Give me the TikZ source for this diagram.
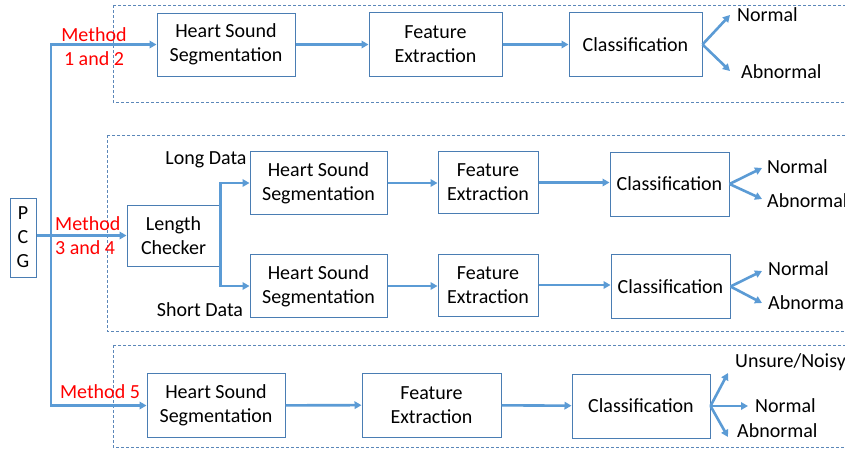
\documentclass[tikz,border=0pt]{standalone}
\usepackage{fontspec}
\setmainfont{Carlito}
\usetikzlibrary{arrows.meta,calc}
\definecolor{boxc}{HTML}{4A7DB3}
\definecolor{arrc}{HTML}{5B9BD5}
\definecolor{dashc}{HTML}{5B87B9}
\begin{document}
\begin{tikzpicture}[x=1pt,y=-1pt,font=\fontsize{20}{24}\selectfont,
  box/.style={draw=boxc,line width=1pt,fill=white,align=center,inner sep=0pt},
  arr/.style={draw=arrc,line width=2.6pt,-{Triangle[length=7pt,width=7.5pt]}},
  dashbox/.style={draw=dashc,line width=1pt,dash pattern=on 3pt off 2pt},
  lab/.style={inner sep=0pt,anchor=west},
  meth/.style={inner sep=0pt,text=red}]
\fill[white] (0,0) rectangle (845,448);
\clip (0,0) rectangle (845,448);
% dashed groups
\draw[dashbox] (113,5) rectangle (870,102);
\draw[dashbox] (107,135) rectangle (870,331);
\draw[dashbox] (113,345) rectangle (870,447);
% PCG
\node[box,minimum width=26pt,minimum height=79pt] (pcg) at (23,237.5) {P\\C\\G};
\coordinate (sp) at (51,0);
% top row
\node[box,minimum width=138pt,minimum height=63pt] (hss1) at (226,44.5) {Heart Sound\\Segmentation};
\node[box,minimum width=133pt,minimum height=64pt] (fe1) at (435.5,44.5) {Feature\\Extraction};
\node[box,minimum width=133pt,minimum height=64pt] (cl1) at (635.5,44.5) {Classification};
\coordinate (t1n) at (730,15);
\coordinate (t1a) at (730,71);
\node[lab] (n1) at (737,15) {Normal};
\node[lab] (a1) at (741,72) {Abnormal};
% middle
\node[box,minimum width=93pt,minimum height=61pt] (lc) at (173.5,235.5) {Length\\Checker};
\node[inner sep=0pt] (long) at (206,160) {Long Data};
\node[inner sep=0pt] (short) at (200,310) {Short Data};
\node[box,minimum width=137pt,minimum height=63pt] (hss2) at (318.5,183) {Heart Sound\\Segmentation};
\node[box,minimum width=100pt,minimum height=62pt] (fe2) at (488,182.5) {Feature\\Extraction};
\node[box,minimum width=119pt,minimum height=64pt] (cl2) at (669.5,184) {Classification};
\coordinate (t2n) at (762,168);
\coordinate (t2a) at (762,199);
\node[lab] (n2) at (767,167) {Normal};
\node[lab] (a2) at (767,201) {Abnormal};
\node[box,minimum width=137pt,minimum height=63pt] (hss3) at (318.5,286) {Heart Sound\\Segmentation};
\node[box,minimum width=100pt,minimum height=62pt] (fe3) at (488,285) {Feature\\Extraction};
\node[box,minimum width=119pt,minimum height=64pt] (cl3) at (670.5,286.5) {Classification};
\coordinate (t3n) at (762,271);
\coordinate (t3a) at (762,303);
\node[lab] (n3) at (768,269) {Normal};
\node[lab] (a3) at (768,303) {Abnormal};
% bottom
\node[box,minimum width=138pt,minimum height=64pt] (hss4) at (216,405.5) {Heart Sound\\Segmentation};
\node[box,minimum width=139pt,minimum height=64pt] (fe4) at (431.5,405) {Feature\\Extraction};
\node[box,minimum width=138pt,minimum height=64pt] (cl4) at (641,406) {Classification};
\coordinate (t4u) at (728,373);
\coordinate (t4n) at (748,406);
\coordinate (t4a) at (728,437);
\node[lab] (u4) at (735,362) {Unsure/Noisy};
\node[lab] (n4) at (755,406) {Normal};
\node[lab] (a4) at (737,431) {Abnormal};
% method labels
\node[meth,align=center] (m12) at (94,46.5) {Method\\1 and 2};
\node[meth,align=left,anchor=west] (m34) at (55,236) {Method\\3 and 4};
\node[meth] (m5) at (100,392) {Method 5};
% connectors
\draw[arr] (hss4.west -| sp) -- (hss1.west -| sp) -- (hss1.west);
\draw[arr] (hss1.west -| sp) -- (hss4.west -| sp) -- (hss4.west);
\draw[arr] (pcg.east |- lc.west) -- (lc.west);
\draw[arr] (lc.east) |- (hss2.west);
\draw[arr] (lc.east) |- (hss3.west);
\draw[arr] (hss1) -- (fe1);
\draw[arr] (fe1) -- (cl1);
\draw[arr] (hss2.east) -- (hss2.east -| fe2.west);
\draw[arr] (fe2.east) -- (fe2.east -| cl2.west);
\draw[arr] (hss3.east) -- (hss3.east -| fe3.west);
\draw[arr] (fe3.east) -- (fe3.east -| cl3.west);
\draw[arr] (hss4) -- (fe4);
\draw[arr] (fe4) -- (cl4);
\draw[arr] (cl1.east) -- (t1n);
\draw[arr] (cl1.east) -- (t1a);
\draw[arr] (cl2.east) -- (t2n);
\draw[arr] (cl2.east) -- (t2a);
\draw[arr] (cl3.east) -- (t3n);
\draw[arr] (cl3.east) -- (t3a);
\draw[arr] (cl4.east) -- (t4u);
\draw[arr] (cl4.east) -- (t4n);
\draw[arr] (cl4.east) -- (t4a);
\end{tikzpicture}
\end{document}
